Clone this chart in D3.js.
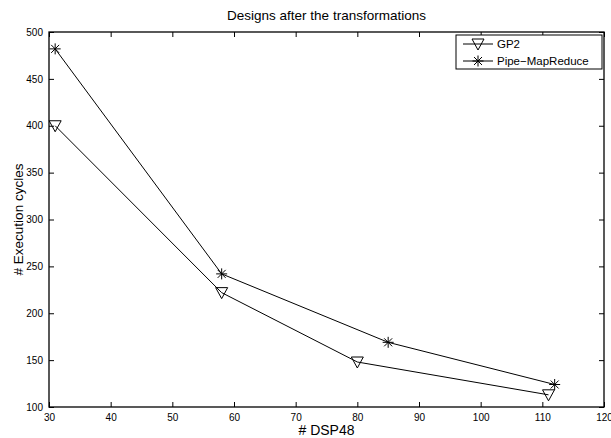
<!DOCTYPE html>
<html>
<head>
<meta charset="utf-8">
<script src="https://cdn.jsdelivr.net/npm/d3@7"></script>
<style>
  body { margin: 0; background: #fff; }
  text { font-family: "Liberation Sans", Arial, sans-serif; fill: #000; }
</style>
</head>
<body>
<svg id="chart" width="611" height="438"></svg>
<script>
// data
const seriesNames = ["GP2", "Pipe\u2212MapReduce"];
const gp2X = [31, 58, 80, 111];
const gp2Y = [400, 222, 148, 113];
const pipeX = [31, 58, 85, 112];
const pipeY = [482, 242, 169, 124];
const xTicks = [30, 40, 50, 60, 70, 80, 90, 100, 110, 120];
const yTicks = [100, 150, 200, 250, 300, 350, 400, 450, 500];

const svg = d3.select("#chart");
const plotL = 49, plotR = 604, plotT = 32, plotB = 407;

const x = d3.scaleLinear().domain([30, 120]).range([plotL, plotR]);
const y = d3.scaleLinear().domain([100, 500]).range([plotB, plotT]);

// axes with inward ticks (matlab style)
svg.append("g").attr("transform", `translate(0,${plotB})`)
  .call(d3.axisBottom(x).tickValues(xTicks).tickSizeInner(-5).tickSizeOuter(0).tickPadding(7))
  .call(g => g.select(".domain").remove());
svg.append("g").attr("transform", `translate(0,${plotT})`)
  .call(d3.axisTop(x).tickValues(xTicks).tickSizeInner(-5).tickSizeOuter(0).tickFormat(""))
  .call(g => g.select(".domain").remove());
svg.append("g").attr("transform", `translate(${plotL},0)`)
  .call(d3.axisLeft(y).tickValues(yTicks).tickSizeInner(-5).tickSizeOuter(0).tickPadding(6))
  .call(g => g.select(".domain").remove());
svg.append("g").attr("transform", `translate(${plotR},0)`)
  .call(d3.axisRight(y).tickValues(yTicks).tickSizeInner(-5).tickSizeOuter(0).tickFormat(""))
  .call(g => g.select(".domain").remove());

svg.selectAll(".tick line").attr("stroke", "#000");
svg.selectAll(".tick text").style("font-size", "10px").attr("fill", "#000");

// box
svg.append("rect").attr("x", plotL).attr("y", plotT)
  .attr("width", plotR - plotL).attr("height", plotB - plotT)
  .attr("fill", "none").attr("stroke", "#000").attr("stroke-width", 1.3);

const line = d3.line().x(d => x(d[0])).y(d => y(d[1]));
const gp2 = gp2X.map((v, i) => [v, gp2Y[i]]);
const pipe = pipeX.map((v, i) => [v, pipeY[i]]);

function triangle(g, cx, cy) {
  g.append("path")
    .attr("d", `M${cx - 6},${cy - 5} L${cx + 6},${cy - 5} L${cx},${cy + 6} Z`)
    .attr("fill", "none").attr("stroke", "#000").attr("stroke-width", 1);
}
function star(g, cx, cy) {
  const r = 5.5, d = 4;
  g.append("path")
    .attr("d", `M${cx - r},${cy} L${cx + r},${cy} M${cx},${cy - r} L${cx},${cy + r}` +
      ` M${cx - d},${cy - d} L${cx + d},${cy + d} M${cx - d},${cy + d} L${cx + d},${cy - d}`)
    .attr("stroke", "#000").attr("stroke-width", 1);
}

svg.append("path").datum(gp2).attr("d", line)
  .attr("fill", "none").attr("stroke", "#000").attr("stroke-width", 1);
svg.append("path").datum(pipe).attr("d", line)
  .attr("fill", "none").attr("stroke", "#000").attr("stroke-width", 1);

const marks = svg.append("g");
gp2.forEach(d => triangle(marks, x(d[0]), y(d[1])));
pipe.forEach(d => star(marks, x(d[0]), y(d[1])));

// legend
const lg = svg.append("g");
lg.append("rect").attr("x", 456).attr("y", 35).attr("width", 146).attr("height", 34)
  .attr("fill", "#fff").attr("stroke", "#000").attr("stroke-width", 1);
[44, 61].forEach((ly, i) => {
  lg.append("line").attr("x1", 463).attr("x2", 493).attr("y1", ly).attr("y2", ly)
    .attr("stroke", "#000").attr("stroke-width", 1);
  if (i === 0) triangle(lg, 478, ly); else star(lg, 478, ly);
  lg.append("text").attr("x", 497).attr("y", ly + 4).style("font-size", "11.5px")
    .text(seriesNames[i]);
});

// title and labels
svg.append("text").attr("x", (plotL + plotR) / 2).attr("y", 20)
  .attr("text-anchor", "middle").style("font-size", "13.5px")
  .text("Designs after the transformations");
svg.append("text").attr("x", (plotL + plotR) / 2).attr("y", 435)
  .attr("text-anchor", "middle").style("font-size", "14px")
  .text("# DSP48");
svg.append("text").attr("transform", `translate(23,${(plotT + plotB) / 2}) rotate(-90)`)
  .attr("text-anchor", "middle").style("font-size", "13.5px")
  .text("# Execution cycles");
</script>
</body>
</html>
